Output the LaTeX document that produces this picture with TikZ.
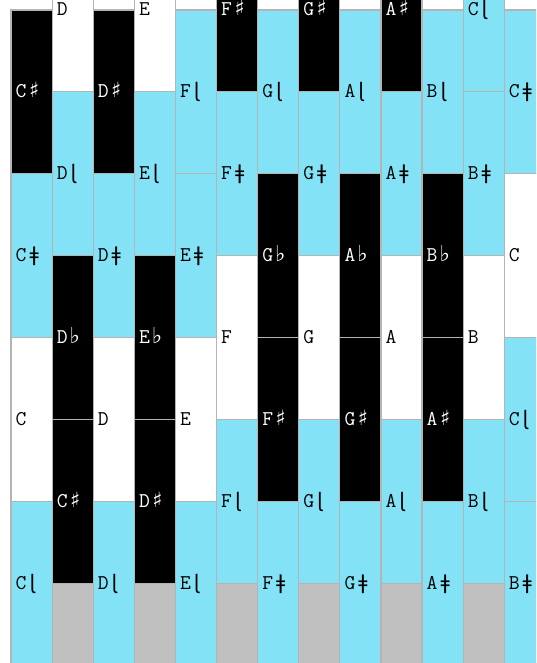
\documentclass[tikz,border=0pt]{standalone}
\usepackage{fontspec}
\newfontfamily\symfont{DejaVu Sans}
\definecolor{keyblue}{RGB}{132,226,246}
\definecolor{keygray}{RGB}{192,192,192}
\definecolor{keyline}{RGB}{180,180,180}
\newcommand{\mysharp}{\hspace{2.5pt}{\symfont\fontsize{21}{21}\selectfont ♯}}
\newcommand{\myflat}{\hspace{2pt}{\symfont\fontsize{22}{22}\selectfont ♭}}
\newcommand{\myhflat}{\hspace{3pt}{\symfont\fontsize{20}{20}\selectfont ɭ}}
\newcommand{\myhsharp}{\hspace{3pt}{\symfont\fontsize{20}{20}\selectfont ǂ}}
\newcommand{\keycell}[6]{%
  \pgfmathsetmacro\kxl{11+41.1*(#2-1)}%
  \pgfmathsetmacro\kyt{10+81.9*(#3)}%
  \draw[cellbox, fill=#4] (\kxl,\kyt) rectangle ++(41.1,163.8);
  \node[lab, text=#5] (#1) at (\kxl+4.5,\kyt+81.9+6) {#6};
}
\newcommand{\graycell}[1]{%
  \pgfmathsetmacro\kxl{11+41.1*(#1-1)}%
  \draw[cellbox, fill=keygray] (\kxl,583.3) rectangle ++(41.1,163.8);
}
\begin{document}
\begin{tikzpicture}[x=1pt,y=-1pt,
  cellbox/.style={draw=keyline, line width=1.2pt},
  lab/.style={anchor=base west, inner sep=0pt, font=\ttfamily\fontsize{21}{21}\selectfont}]
\useasboundingbox (0,0) rectangle (536,663);
\fill[white] (0,0) rectangle (536,663);
\clip (0,0) rectangle (536,663);
% column 1
\keycell{c1a}{1}{0}{black}{white}{C\mysharp}
\keycell{c1b}{1}{2}{keyblue}{black}{C\myhsharp}
\keycell{c1c}{1}{4}{white}{black}{C}
\keycell{c1d}{1}{6}{keyblue}{black}{C\myhflat}
% column 2
\keycell{c2a}{2}{-1}{white}{black}{D}
\keycell{c2b}{2}{1}{keyblue}{black}{D\myhflat}
\keycell{c2c}{2}{3}{black}{white}{D\myflat}
\keycell{c2d}{2}{5}{black}{white}{C\mysharp}
\graycell{2}
% column 3
\keycell{c3a}{3}{0}{black}{white}{D\mysharp}
\keycell{c3b}{3}{2}{keyblue}{black}{D\myhsharp}
\keycell{c3c}{3}{4}{white}{black}{D}
\keycell{c3d}{3}{6}{keyblue}{black}{D\myhflat}
% column 4
\keycell{c4a}{4}{-1}{white}{black}{E}
\keycell{c4b}{4}{1}{keyblue}{black}{E\myhflat}
\keycell{c4c}{4}{3}{black}{white}{E\myflat}
\keycell{c4d}{4}{5}{black}{white}{D\mysharp}
\graycell{4}
% column 5
\keycell{c5a}{5}{0}{keyblue}{black}{F\myhflat}
\keycell{c5b}{5}{2}{keyblue}{black}{E\myhsharp}
\keycell{c5c}{5}{4}{white}{black}{E}
\keycell{c5d}{5}{6}{keyblue}{black}{E\myhflat}
% column 6
\keycell{c6a}{6}{-1}{black}{white}{F\mysharp}
\keycell{c6b}{6}{1}{keyblue}{black}{F\myhsharp}
\keycell{c6c}{6}{3}{white}{black}{F}
\keycell{c6d}{6}{5}{keyblue}{black}{F\myhflat}
\graycell{6}
% column 7
\keycell{c7a}{7}{0}{keyblue}{black}{G\myhflat}
\keycell{c7b}{7}{2}{black}{white}{G\myflat}
\keycell{c7c}{7}{4}{black}{white}{F\mysharp}
\keycell{c7d}{7}{6}{keyblue}{black}{F\myhsharp}
% column 8
\keycell{c8a}{8}{-1}{black}{white}{G\mysharp}
\keycell{c8b}{8}{1}{keyblue}{black}{G\myhsharp}
\keycell{c8c}{8}{3}{white}{black}{G}
\keycell{c8d}{8}{5}{keyblue}{black}{G\myhflat}
\graycell{8}
% column 9
\keycell{c9a}{9}{0}{keyblue}{black}{A\myhflat}
\keycell{c9b}{9}{2}{black}{white}{A\myflat}
\keycell{c9c}{9}{4}{black}{white}{G\mysharp}
\keycell{c9d}{9}{6}{keyblue}{black}{G\myhsharp}
% column 10
\keycell{c10a}{10}{-1}{black}{white}{A\mysharp}
\keycell{c10b}{10}{1}{keyblue}{black}{A\myhsharp}
\keycell{c10c}{10}{3}{white}{black}{A}
\keycell{c10d}{10}{5}{keyblue}{black}{A\myhflat}
\graycell{10}
% column 11
\keycell{c11a}{11}{0}{keyblue}{black}{B\myhflat}
\keycell{c11b}{11}{2}{black}{white}{B\myflat}
\keycell{c11c}{11}{4}{black}{white}{A\mysharp}
\keycell{c11d}{11}{6}{keyblue}{black}{A\myhsharp}
% column 12
\keycell{c12a}{12}{-1}{keyblue}{black}{C\myhflat}
\keycell{c12b}{12}{1}{keyblue}{black}{B\myhsharp}
\keycell{c12c}{12}{3}{white}{black}{B}
\keycell{c12d}{12}{5}{keyblue}{black}{B\myhflat}
\graycell{12}
% column 13
\keycell{c13a}{13}{0}{keyblue}{black}{C\myhsharp}
\keycell{c13b}{13}{2}{white}{black}{C}
\keycell{c13c}{13}{4}{keyblue}{black}{C\myhflat}
\keycell{c13d}{13}{6}{keyblue}{black}{B\myhsharp}
\end{tikzpicture}
\end{document}
